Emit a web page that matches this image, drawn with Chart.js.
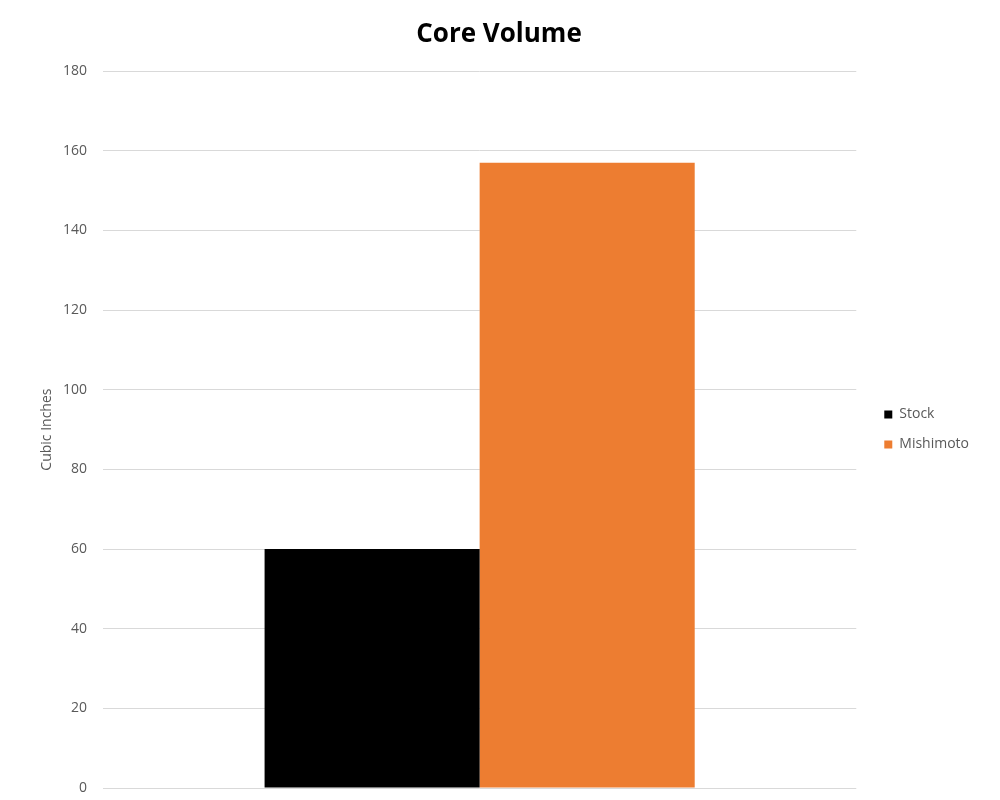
<!DOCTYPE html>
<html>
<head>
<meta charset="utf-8">
<script src="https://cdn.jsdelivr.net/npm/chart.js@4"></script>
<style>
  html, body { margin: 0; padding: 0; background: #fff; }
  #wrap { width: 1000px; height: 800px; }
</style>
</head>
<body>
<div id="wrap"><canvas id="coreVolume"></canvas></div>
<script>
// data
var categories = ['Core Volume'];
var stockValues = [60];
var mishimotoValues = [157];
var yTicks = [0, 20, 40, 60, 80, 100, 120, 140, 160, 180];

var ctx = document.getElementById('coreVolume');
var coreVolumeChart = new Chart(ctx, {
    type: 'bar',
    data: {
        labels: categories,
        datasets: [{
            label: 'Stock',
            data: stockValues,
            backgroundColor: '#000000'
        }, {
            label: 'Mishimoto',
            data: mishimotoValues,
            backgroundColor: '#ed7d31'
        }]
    },
    options: {
        responsive: true,
        maintainAspectRatio: false,
        animation: false,
        layout: {
            padding: { left: 19, right: 21, top: 10, bottom: 12 }
        },
        datasets: {
            bar: {
                categoryPercentage: 0.571,
                barPercentage: 1.0
            }
        },
        plugins: {
            title: {
                display: true,
                text: 'Core Volume',
                color: '#000',
                font: { family: 'Open Sans', size: 26, weight: 'bold' },
                padding: { top: 9, bottom: 21 }
            },
            legend: {
                position: 'right',
                title: {
                    // empty spacer, pushes the items down to the middle of the plot
                    display: true,
                    text: ' ',
                    font: { size: 40 },
                    padding: { top: 6.5, bottom: 6.5 }
                },
                labels: {
                    boxWidth: 8,
                    boxHeight: 8,
                    padding: 16,
                    color: '#595959',
                    font: { family: 'Open Sans', size: 14 }
                }
            },
            tooltip: { enabled: false }
        },
        scales: {
            x: {
                display: false
            },
            y: {
                min: 0,
                max: 180,
                afterBuildTicks: function (axis) {
                    axis.ticks = yTicks.map(function (v) { return { value: v }; });
                },
                afterFit: function (axis) {
                    // fixed axis width, no extra label padding above/below
                    axis.width = 84;
                    axis.paddingTop = 0;
                    axis.paddingBottom = 0;
                },
                border: { display: false },
                grid: { color: '#d9d9d9', drawTicks: false },
                ticks: {
                    color: '#595959',
                    padding: 16,
                    font: { family: 'Open Sans', size: 14 }
                },
                title: {
                    display: true,
                    text: 'Cubic Inches',
                    color: '#595959',
                    font: { family: 'Open Sans', size: 14 },
                    padding: { top: 20, bottom: 7 }
                }
            },
            // blank right-hand axis, only used as a gap before the legend
            yGap: {
                position: 'right',
                display: true,
                border: { display: false },
                grid: { display: false },
                ticks: { display: false },
                afterFit: function (axis) {
                    axis.width = 12;
                    axis.paddingTop = 0;
                    axis.paddingBottom = 0;
                }
            }
        }
    }
});
</script>
</body>
</html>
